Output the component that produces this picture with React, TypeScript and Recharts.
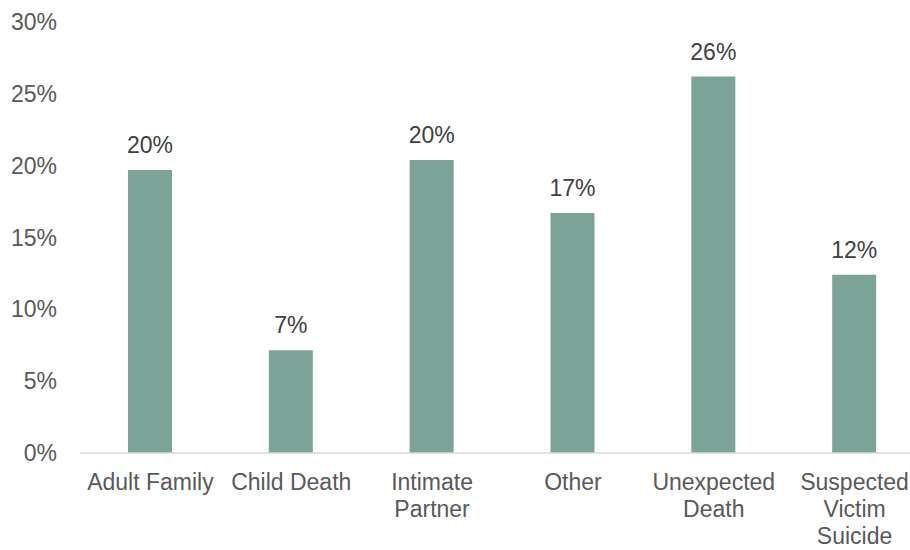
import React from "react";
import { BarChart, Bar, XAxis, YAxis, LabelList } from "recharts";

const categories = [
  "Adult Family",
  "Child Death",
  "Intimate Partner",
  "Other",
  "Unexpected Death",
  "Suspected Victim Suicide",
];

// how each category label is broken into lines under the axis
const tickLines: string[][] = [
  ["Adult Family"],
  ["Child Death"],
  ["Intimate", "Partner"],
  ["Other"],
  ["Unexpected", "Death"],
  ["Suspected", "Victim", "Suicide"],
];

const shares = [19.7, 7.15, 20.4, 16.7, 26.2, 12.4];

const yTicks = [0, 5, 10, 15, 20, 25, 30];

const chartData = categories.map((name, i) => ({
  name,
  value: shares[i],
  lines: tickLines[i],
}));

const FONT = "'Liberation Sans', Arial, sans-serif";
const BAR_COLOR = "#7BA397";

const CategoryTick = (props: any) => {
  const { x, y, index } = props;
  const lines = tickLines[index] || [props.payload.value];
  return (
    <text
      x={x}
      y={y + 37}
      textAnchor='middle'
      fill='#595959'
      fontSize={23}
      fontFamily={FONT}
    >
      {lines.map((line, i) => (
        <tspan key={i} x={x} dy={i === 0 ? 0 : 27}>
          {line}
        </tspan>
      ))}
    </text>
  );
};

const App: React.FC = () => {
  return (
    <div
      style={{
        position: "absolute",
        left: 0,
        top: 0,
        width: 910,
        height: 550,
        overflow: "hidden",
        background: "#fff",
      }}
    >
      <BarChart
        width={925}
        height={550}
        data={chartData}
        margin={{ top: 22, right: 0, bottom: 0, left: 0 }}
        barCategoryGap={0}
      >
        <XAxis
          dataKey='name'
          axisLine={{ stroke: "#D9D9D9", strokeWidth: 1.5 }}
          tickLine={false}
          tickSize={0}
          tickMargin={0}
          height={97}
          interval={0}
          tick={<CategoryTick />}
        />
        <YAxis
          domain={[0, 30]}
          ticks={yTicks}
          width={80}
          axisLine={false}
          tickLine={false}
          tickSize={0}
          tickMargin={23}
          tickFormatter={(v: number) => `${v}%`}
          tick={{ fill: "#595959", fontSize: 23, fontFamily: FONT }}
        />
        <Bar
          dataKey='value'
          fill={BAR_COLOR}
          barSize={44}
          isAnimationActive={false}
        >
          <LabelList
            dataKey='value'
            position='top'
            offset={17}
            formatter={(v: any) => `${Math.round(Number(v))}%`}
            fill='#404040'
            fontSize={23}
            fontFamily={FONT}
          />
        </Bar>
      </BarChart>
    </div>
  );
};

export default App;
